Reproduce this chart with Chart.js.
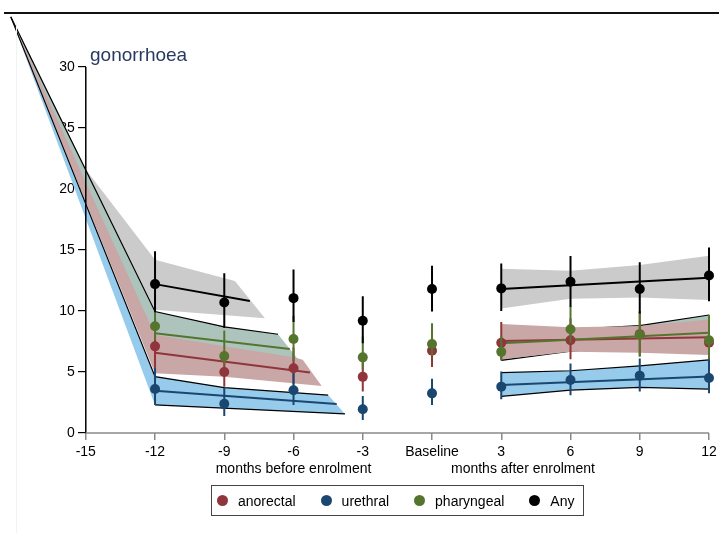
<!DOCTYPE html>
<html>
<head>
<meta charset="utf-8">
<title>gonorrhoea</title>
<script src="https://cdn.jsdelivr.net/npm/chart.js@4.4.1/dist/chart.umd.min.js"></script>
<style>
  body { margin: 0; background: #fff; overflow: hidden; font-family: 'Liberation Sans', Arial, sans-serif; }
  #wrap { position: relative; width: 719px; height: 533px; }
  #topline { position: absolute; left: 4px; top: 12px; width: 715px; border-top: 2px solid #111; }
  #edge { position: absolute; left: 16px; top: 22px; bottom: 0; border-left: 1px solid #eef3f4; }
  #title { position: absolute; left: 90px; top: 45px; font-size: 19px; line-height: 1; color: #283a62; }
  #legend {
    position: absolute; left: 211px; top: 485px; width: 373px; height: 31px; box-sizing: border-box;
    border: 1.5px solid #444; display: flex; align-items: center; padding-left: 5px; font-size: 14px; color: #000;
  }
  .item { display: flex; align-items: center; margin-right: 25px; }
  .dot { width: 11px; height: 11px; border-radius: 50%; margin-right: 10px; }
</style>
</head>
<body>
<div id="wrap">
  <canvas id="chart" width="719" height="533"></canvas>
  <div id="edge"></div>
  <div id="topline"></div>
  <div id="title">gonorrhoea</div>
  <div id="legend"></div>
</div>
<script>
// ── Axes ──
const xTicks = [-15, -12, -9, -6, -3, 0, 3, 6, 9, 12];
const yTicks = [0, 5, 10, 15, 20, 25, 30];
const xTitleBefore = 'months before enrolment';
const xTitleAfter  = 'months after enrolment';
const afterLabelX  = 3.94;   // where the "after" caption is centred

// ── Observed prevalence with 95% CI, per period ──
const periods = [-12, -9, -6, -3, 0, 3, 6, 9, 12];

const anorectal   = [7.1, 5.0, 5.3, 4.6, 6.75, 7.4, 7.6, 8.1, 7.4];
const anorectalLo = [5.2, 3.8, 4.0, 3.4, 5.4, 6.0, 6.05, 6.3, 5.9];
const anorectalHi = [9.4, 6.6, 7.0, 6.2, 8.4, 9.1, 9.4, 10.0, 9.3];

const urethral   = [3.6, 2.4, 3.5, 1.95, 3.25, 3.8, 4.35, 4.7, 4.5];
const urethralLo = [2.3, 1.4, 2.3, 1.07, 2.3, 2.76, 3.1, 3.4, 3.25];
const urethralHi = [5.3, 3.7, 4.9, 3.03, 4.45, 5.03, 5.7, 6.1, 6.0];

const pharyngeal   = [8.75, 6.3, 7.7, 6.2, 7.3, 6.65, 8.5, 8.05, 7.6];
const pharyngealLo = [7.6, 5.6, 5.9, 5.2, 6.3, 5.95, 7.4, 6.25, 6.1];
const pharyngealHi = [10.3, 8.4, 9.6, 7.9, 9.0, 8.0, 10.4, 9.9, 9.7];

const anySite   = [12.2, 10.7, 11.05, 9.2, 11.8, 11.85, 12.4, 11.8, 12.9];
const anySiteLo = [9.9, 8.6, 9.1, 7.35, 9.95, 10.0, 10.35, 9.8, 10.8];
const anySiteHi = [14.9, 13.1, 13.4, 11.2, 13.7, 13.9, 14.5, 14.0, 15.2];

// ── Pre-enrolment trend bands [x, y] (upper / lower edge) ──
const anyPreUp  = [[-18.25, 34.1], [-15, 21.6], [-12, 14.2], [-8.54, 12.46], [-7.24, 9.4]];
const anyPreLow = [[-18.25, 34.1], [-12, 10.1], [-7.24, 9.4]];
const phaPreUp  = [[-18.25, 34.1], [-12, 9.95], [-9, 8.7], [-6.67, 8.09], [-5.72, 5.84]];
const phaPreLow = [[-18.25, 34.1], [-12, 6.8], [-5.72, 5.84]];
const anoPreUp  = [[-18.25, 34.1], [-12, 8.05], [-9, 7.1], [-6, 6.2], [-5.6, 6.0], [-4.78, 3.85]];
const anoPreLow = [[-18.25, 34.1], [-12, 4.9], [-9, 4.6], [-4.78, 3.85]];
const uroPreUp  = [[-18.25, 34.1], [-12, 4.62], [-9, 3.72], [-4.5, 3.11], [-3.77, 1.56]];
const uroPreLow = [[-18.25, 34.1], [-12, 2.3], [-3.77, 1.56]];

// ── Pre-enrolment fitted trends ──
const anyPreFit = [[-12, 12.2], [-7.89, 10.82]];
const phaPreFit = [[-12, 8.17], [-6.16, 6.89]];
const anoPreFit = [[-12, 6.58], [-5.29, 4.95]];
const uroPreFit = [[-12, 3.47], [-4.13, 2.38]];

// ── Post-enrolment bands and trends ──
const postX      = [3, 6, 9, 12];
const anyPostUp  = [13.45, 13.3, 13.77, 14.53];
const anyPostLow = [10.2, 11.0, 11.1, 10.9];
const phaPostUp  = [8.5, 8.5, 8.8, 9.67];
const phaPostLow = [5.95, 6.7, 7.1, 6.9];
const anoPostUp  = [8.93, 8.66, 8.77, 9.3];
const anoPostLow = [6.04, 6.66, 6.58, 6.39];
const uroPostUp  = [4.95, 5.1, 5.5, 6.0];
const uroPostLow = [3.0, 3.52, 3.74, 3.6];
const postFitX   = [3, 12];
const anyPostFit = [11.8, 12.73];
const phaPostFit = [7.35, 8.22];
const anoPostFit = [7.54, 7.84];
const uroPostFit = [3.93, 4.62];

const COL = { ano: '#90353b', uro: '#1a476f', pha: '#55752f', any: '#000000' };
const BAND = { ano: '#c9a7a6', uro: '#96cbec', pha: '#adc4bc', any: '#cbcbcb' };

const pts  = arr => arr.map(([x, y]) => ({ x, y }));
const post = (xs, ys) => xs.map((x, i) => ({ x, y: ys[i] }));

// upper edge fills down to the next dataset (its lower edge)
function band(up, low, color, order) {
  return [
    { data: up, fill: '+1', backgroundColor: color, borderColor: 'transparent', borderWidth: 0, pointRadius: 0, order },
    { data: low, fill: false, borderColor: 'transparent', borderWidth: 0, pointRadius: 0, order: order + 0.1 }
  ];
}
function edge(data, order) {
  return { data, fill: false, borderColor: '#000', borderWidth: 1.2, pointRadius: 0, order };
}
function trend(data, color, order) {
  return { data, fill: false, borderColor: color, borderWidth: 2, pointRadius: 0, order };
}
function errBars(lo, hi, color, order) {
  const data = [];
  periods.forEach((x, i) => data.push({ x, y: lo[i] }, { x, y: hi[i] }, { x, y: null }));
  return { data, fill: false, borderColor: color, borderWidth: 2, pointRadius: 0, spanGaps: false, order };
}
function markers(label, vals, color, order) {
  return { label, data: post(periods, vals), showLine: false, pointRadius: 5, pointBorderWidth: 0,
           pointBackgroundColor: color, backgroundColor: color, borderColor: color, order };
}

const datasets = [
  ...band(pts(anyPreUp), pts(anyPreLow), BAND.any, 100),
  ...band(post(postX, anyPostUp), post(postX, anyPostLow), BAND.any, 100),
  ...band(pts(phaPreUp), pts(phaPreLow), BAND.pha, 90),
  ...band(post(postX, phaPostUp), post(postX, phaPostLow), BAND.pha, 90),
  edge(pts(phaPreUp.slice(0, -1)), 89),
  edge(post(postX, phaPostUp), 89),
  edge(post(postX, phaPostLow), 89),
  ...band(pts(anoPreUp), pts(anoPreLow), BAND.ano, 80),
  ...band(post(postX, anoPostUp), post(postX, anoPostLow), BAND.ano, 80),
  ...band(pts(uroPreUp), pts(uroPreLow), BAND.uro, 70),
  ...band(post(postX, uroPostUp), post(postX, uroPostLow), BAND.uro, 70),
  edge(pts(uroPreUp.slice(0, -1)), 69),
  edge(pts(uroPreLow.slice(1)), 69),
  edge(post(postX, uroPostUp), 69),
  edge(post(postX, uroPostLow), 69),
  // axis lines
  { data: [{ x: xTicks[0], y: 0 }, { x: xTicks[xTicks.length - 1], y: 0 }], borderColor: '#8a8a8a', borderWidth: 1.5, pointRadius: 0, fill: false, order: 60 },
  { data: [{ x: xTicks[0], y: yTicks[0] }, { x: xTicks[0], y: yTicks[yTicks.length - 1] }], borderColor: '#000', borderWidth: 1.5, pointRadius: 0, fill: false, order: 60 },
  // fitted trends
  trend(pts(anyPreFit), COL.any, 50), trend(post(postFitX, anyPostFit), COL.any, 50),
  trend(pts(phaPreFit), COL.pha, 50), trend(post(postFitX, phaPostFit), COL.pha, 50),
  trend(pts(anoPreFit), COL.ano, 50), trend(post(postFitX, anoPostFit), COL.ano, 50),
  trend(pts(uroPreFit), COL.uro, 50), trend(post(postFitX, uroPostFit), COL.uro, 50),
  // observed points, Any on top
  errBars(anorectalLo, anorectalHi, COL.ano, 40), markers('anorectal', anorectal, COL.ano, 39),
  errBars(urethralLo, urethralHi, COL.uro, 38),   markers('urethral', urethral, COL.uro, 37),
  errBars(pharyngealLo, pharyngealHi, COL.pha, 36), markers('pharyngeal', pharyngeal, COL.pha, 35),
  errBars(anySiteLo, anySiteHi, COL.any, 34),     markers('Any', anySite, COL.any, 33)
];
datasets.forEach(d => { d.clip = false; d.tension = 0; });

// y axis sits at x = -15, push its labels left of the tick marks
const yLabelShift = {
  id: 'yLabelShift',
  beforeDraw(chart) {
    const s = chart.scales.y;
    const items = s.getLabelItems();
    if (items._shifted) return;
    const dx = s.options.grid.tickLength + s.options.ticks.padding;
    items.forEach(it => { it.options.translation[0] -= dx; });
    items._shifted = true;
  }
};

Chart.defaults.font.family = "'Liberation Sans', Arial, sans-serif";

new Chart(document.getElementById('chart'), {
  type: 'line',
  data: { datasets },
  plugins: [yLabelShift],
  options: {
    responsive: false,
    devicePixelRatio: 1,
    animation: false,
    events: [],
    layout: { padding: { left: 5, right: 10, top: 12, bottom: 60 } },
    plugins: { legend: { display: false }, tooltip: { enabled: false } },
    scales: {
      x: {
        type: 'linear', min: -18.5, max: 12,
        afterBuildTicks: s => { s.ticks = [...xTicks, afterLabelX].map(v => ({ value: v })); },
        afterFit: s => { s.height = 40; },
        ticks: {
          autoSkip: false, maxRotation: 0, minRotation: 0, padding: 4, color: '#000', font: { size: 14 },
          callback: v => v === 0 ? 'Baseline'
            : v === -6 ? ['-6', xTitleBefore]
            : v === afterLabelX ? ['', xTitleAfter]
            : String(v)
        },
        grid: {
          drawOnChartArea: false, tickLength: 7, lineWidth: 1.5,
          color: c => (c.tick && c.tick.value === afterLabelX) ? 'rgba(0,0,0,0)' : '#8a8a8a'
        },
        border: { display: false }
      },
      y: {
        type: 'linear', axis: 'y', min: 0, max: 34.5, position: { x: -15 },
        afterBuildTicks: s => { s.ticks = yTicks.map(v => ({ value: v })); },
        ticks: { padding: 3, color: '#000', font: { size: 14 } },
        grid: { drawOnChartArea: false, tickLength: 8, lineWidth: 1.2, color: '#000' },
        border: { display: false }
      }
    }
  }
});

// ── Legend ──
const legendItems = [['anorectal', COL.ano], ['urethral', COL.uro], ['pharyngeal', COL.pha], ['Any', COL.any]];
document.getElementById('legend').innerHTML = legendItems.map(([name, c]) =>
  `<div class="item"><span class="dot" style="background:${c}"></span>${name}</div>`
).join('');
</script>
</body>
</html>
